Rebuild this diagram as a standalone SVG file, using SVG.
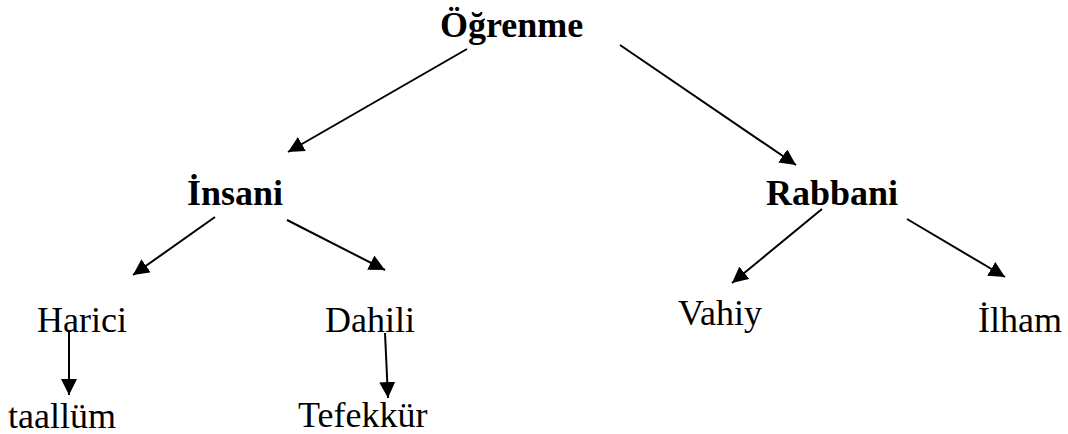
<svg xmlns="http://www.w3.org/2000/svg" width="1068" height="434" viewBox="0 0 1068 434">
<defs>
<style>
.t{font-family:"Liberation Serif","Times New Roman",serif;font-size:36px;fill:#000}
.b{font-weight:bold}
.c{stroke:#000;stroke-width:2;fill:none;marker-end:url(#ah)}
</style>
<marker id="ah" markerUnits="userSpaceOnUse" markerWidth="17" markerHeight="16" refX="16" refY="8" orient="auto">
<path d="M0,0 L16,8 L0,16 z" fill="#000"/>
</marker>
</defs>
<rect width="1068" height="434" fill="#fff"/>
<g id="connectors">
<line class="c" x1="467" y1="49" x2="288" y2="152"/>
<line class="c" x1="620" y1="45" x2="796" y2="165"/>
<line class="c" x1="215" y1="217" x2="133" y2="275"/>
<line class="c" x1="287" y1="220" x2="385" y2="270"/>
<line class="c" x1="822" y1="209" x2="732" y2="283"/>
<line class="c" x1="907" y1="219" x2="1005" y2="277"/>
<line class="c" x1="69" y1="330" x2="69" y2="395"/>
<line class="c" x1="385" y1="333" x2="388" y2="398"/>
</g>
<g id="ogrenme"><text class="t b" x="440" y="37">Öğrenme</text></g>
<g id="insani"><text class="t b" x="187" y="205">İnsani</text></g>
<g id="rabbani"><text class="t b" x="766" y="205">Rabbani</text></g>
<g id="harici"><text class="t" x="37" y="332">Harici</text></g>
<g id="dahili"><text class="t" x="325" y="332">Dahili</text></g>
<g id="vahiy"><text class="t" x="678" y="325">Vahiy</text></g>
<g id="ilham"><text class="t" x="978" y="332">İlham</text></g>
<g id="taallum"><text class="t" x="8" y="428">taallüm</text></g>
<g id="tefekkur"><text class="t" x="298" y="427">Tefekkür</text></g>
</svg>
